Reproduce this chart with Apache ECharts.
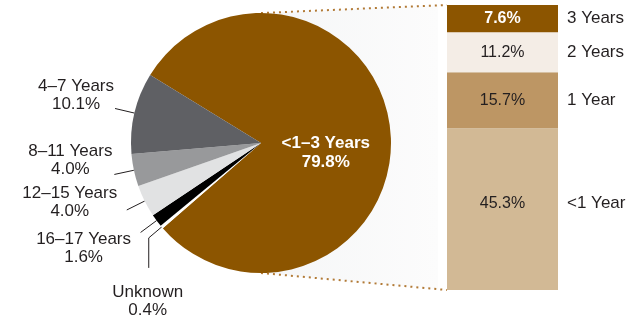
<!DOCTYPE html>
<html>
<head>
<meta charset="utf-8">
<title>Length of residence</title>
<script src="https://cdn.jsdelivr.net/npm/echarts@6/dist/echarts.min.js"></script>
<style>
  html, body { margin: 0; padding: 0; background: #ffffff; }
  #chart { width: 629px; height: 322px; }
</style>
</head>
<body>
<div id="chart"></div>
<script>
// Pie: share of each residence band (percent)
const pieNames  = ['<1–3 Years', 'Unknown', '16–17 Years', '12–15 Years', '8–11 Years', '4–7 Years'];
const pieValues = [79.8, 0.4, 1.6, 4.0, 4.0, 10.1];
const pieColors = ['#8c5500', '#ffffff', '#000000', '#e1e2e3', '#98999b', '#5f6064'];

// Breakdown bar of the <1–3 Years slice, stacked bottom to top
const barNames  = ['<1 Year', '1 Year', '2 Years', '3 Years'];
const barValues = [45.3, 15.7, 11.2, 7.6];
const barColors = ['#d2b995', '#bd9664', '#f4ede6', '#8c5500'];
const barLabelColors = ['#231f20', '#231f20', '#231f20', '#ffffff'];

// geometry / styling
const FONT = "'Liberation Sans', Arial, sans-serif";
const CX = 261, CY = 143, R = 130, START = 148.5;
const GRID = { left: 447, top: 5, width: 111, height: 285 };
const LEADER = 20;
// text block offset from the end of each leader line
const labelShift = [null, [-1, 33], [-57, 16], [-57, -8], [-44, -14], [-39, -13]];

const pieTotal = pieValues.reduce((a, b) => a + b, 0);
const barTotal = barValues.reduce((a, b) => a + b, 0);

function midAngle(i) {
  let before = 0;
  for (let k = 0; k < i; k++) before += pieValues[k];
  const frac = (before + pieValues[i] / 2) / pieTotal;
  return (START - frac * 360) * Math.PI / 180;
}
function polar(a, r) {
  return [CX + r * Math.cos(a), CY - r * Math.sin(a)];
}

const chart = echarts.init(document.getElementById('chart'), null, { renderer: 'canvas' });

const series = [{
  type: 'pie',
  center: [CX, CY],
  radius: R,
  startAngle: START,
  clockwise: true,
  avoidLabelOverlap: false,
  silent: true,
  z: 3,
  itemStyle: { borderWidth: 0 },
  label: {
    show: true,
    position: 'outside',
    fontFamily: FONT,
    fontSize: 17,
    lineHeight: 18,
    color: '#231f20',
    align: 'center',
    formatter: p => p.name + '\n' + p.value.toFixed(1) + '%'
  },
  labelLine: { show: true, length: LEADER, length2: 0, smooth: false,
               lineStyle: { color: '#231f20', width: 1 } },
  labelLayout: function (p) {
    const i = p.dataIndex;
    const a = midAngle(i);
    if (i === 0) {
      const c = polar(a, R * 0.5);
      return { x: c[0], y: c[1] + 15, align: 'center', verticalAlign: 'middle' };
    }
    const edge = polar(a, R);
    const out = polar(a, R + (i === 1 ? 17 : LEADER));
    let pts = [edge, out, out];
    let end = out;
    if (i === 1) {
      end = [out[0], out[1] + 30];
      pts = [edge, out, end];
    }
    const s = labelShift[i];
    return {
      x: end[0] + s[0],
      y: end[1] + s[1],
      align: 'center',
      verticalAlign: 'middle',
      labelLinePoints: pts
    };
  },
  data: pieNames.map((n, i) => {
    const d = { name: n, value: pieValues[i], itemStyle: { color: pieColors[i] } };
    if (i === 0) {
      d.label = { position: 'inside', color: '#ffffff', fontWeight: 'bold', fontSize: 17, lineHeight: 19 };
      d.labelLine = { show: false };
    }
    return d;
  })
}];

// visible stacked segments with value labels inside
barNames.forEach((n, i) => {
  series.push({
    type: 'bar',
    name: n,
    stack: 'share',
    barWidth: '100%',
    silent: true,
    itemStyle: { color: barColors[i] },
    label: {
      show: true,
      position: 'inside',
      fontFamily: FONT,
      fontSize: 16,
      color: barLabelColors[i],
      fontWeight: i === 3 ? 'bold' : 'normal',
      offset: i === 0 ? [0, -6] : [0, 0],
      formatter: p => p.value.toFixed(1) + '%'
    },
    data: [barValues[i]]
  });
});
// transparent twin stack carrying the category names to the right
barNames.forEach((n, i) => {
  series.push({
    type: 'bar',
    name: n,
    stack: 'names',
    barWidth: '100%',
    barGap: '-100%',
    silent: true,
    itemStyle: { color: 'rgba(0,0,0,0)' },
    label: {
      show: true,
      position: 'right',
      distance: 9,
      fontFamily: FONT,
      fontSize: 17,
      color: '#231f20',
      offset: i === 0 ? [0, -6] : [0, 0],
      formatter: '{a}'
    },
    data: [barValues[i]]
  });
});

chart.setOption({
  animation: false,
  backgroundColor: '#ffffff',
  textStyle: { fontFamily: FONT },
  grid: { left: GRID.left, top: GRID.top, width: GRID.width, height: GRID.height, containLabel: false },
  xAxis: { type: 'category', data: [''], show: false },
  yAxis: { type: 'value', min: 0, max: barTotal, show: false },
  series: series
});

// connector: shaded wedge and dotted lines from the pie to the breakdown bar
const topBar = chart.convertToPixel({ yAxisIndex: 0 }, barTotal);
const botBar = chart.convertToPixel({ yAxisIndex: 0 }, 0);
const pieTop = [CX, CY - R], pieBot = [CX, CY + R];
const shadeRight = GRID.left - 9;
function lerpY(p, q, x) { return p[1] + (q[1] - p[1]) * (x - p[0]) / (q[0] - p[0]); }
const tb = [GRID.left, topBar], bb = [GRID.left, botBar];

chart.setOption({
  graphic: [
    {
      type: 'polygon', z: 0, silent: true,
      shape: { points: [pieTop, [shadeRight, lerpY(pieTop, tb, shadeRight)],
                        [shadeRight, lerpY(pieBot, bb, shadeRight)], pieBot] },
      style: {
        fill: new echarts.graphic.LinearGradient(0, 0, 1, 0, [
          { offset: 0, color: '#f5f6f7' },
          { offset: 1, color: '#fcfcfc' }
        ])
      }
    },
    {
      type: 'polyline', z: 1, silent: true,
      shape: { points: [pieTop, tb] },
      style: { stroke: '#b27a36', lineWidth: 2, lineDash: [2, 4], fill: null }
    },
    {
      type: 'polyline', z: 1, silent: true,
      shape: { points: [pieBot, bb] },
      style: { stroke: '#b27a36', lineWidth: 2, lineDash: [2, 4], fill: null }
    }
  ]
});
</script>
</body>
</html>
